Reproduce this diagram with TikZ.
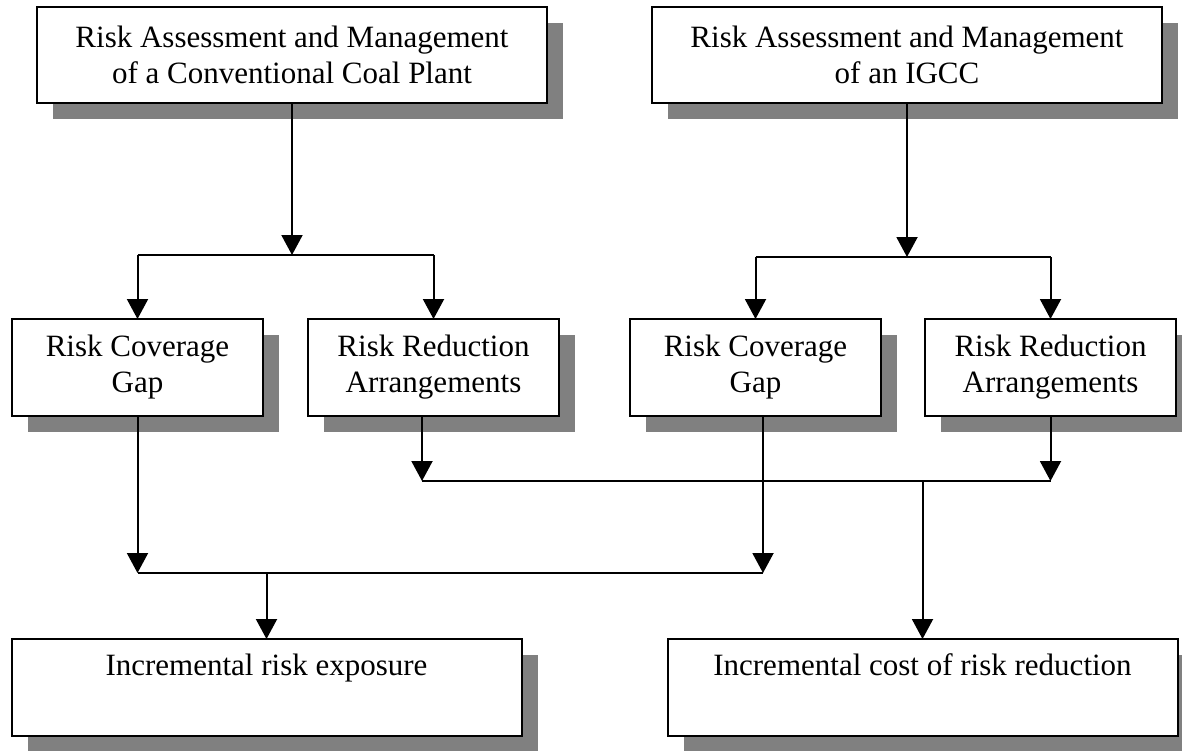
\documentclass[tikz,border=0pt]{standalone}
\usepackage{fontspec}
\setmainfont{Liberation Serif}
\usetikzlibrary{arrows.meta, positioning, shadows}
\definecolor{shadowgray}{gray}{0.5}
\tikzstyle{riskbox}=[draw, line width=1pt, fill=white, inner sep=0pt, outer sep=0pt, align=center,
  font=\fontsize{15.5}{18}\selectfont,
  drop shadow={shadow xshift=8pt, shadow yshift=-8pt, fill=shadowgray, opacity=1}]
\tikzstyle{widebox}=[riskbox, minimum width=255pt, minimum height=48pt]
\tikzstyle{smallbox}=[riskbox, minimum width=125.5pt, minimum height=48.5pt]
\tikzstyle{flow}=[line width=1pt, >={Triangle[width=10.5pt,length=10pt]}]

\begin{document}
\begin{tikzpicture}[x=0.5pt, y=-0.5pt, flow]
  \useasboundingbox (0,0) rectangle (1182,750);

  \node[widebox]  (conv)     at (292,55)      {Risk Assessment and Management\\of a Conventional Coal Plant};
  \node[widebox]  (igcc)     [right=52.5pt of conv] {Risk Assessment and Management\\of an IGCC};

  \node[smallbox] (gapL)     at (137.5,367.5) {Risk Coverage\\Gap};
  \node[smallbox] (redL)     [right=22.5pt of gapL] {Risk Reduction\\Arrangements};
  \node[smallbox] (gapR)     [right=35.5pt of redL] {Risk Coverage\\Gap};
  \node[smallbox] (redR)     [right=22pt of gapR]   {Risk Reduction\\Arrangements};

  \node[widebox, minimum height=48.5pt] (exposure) at (266.5,687.5) {Incremental risk exposure\\[5pt]~};
  \node[widebox, minimum height=48.5pt] (cost)     [right=73pt of exposure] {Incremental cost of risk reduction\\[5pt]~};

  \coordinate (forkL) at (292,255);
  \coordinate (forkR) at (907,257);
  \coordinate (barR)  at (0,481);
  \coordinate (barL)  at (0,573);
  \coordinate (outL)  at ([xshift=-5.75pt]redL.south);
  \coordinate (outR)  at ([xshift=3.75pt]gapR.south);

  \draw (gapL |- forkL) -- (redL |- forkL);
  \draw (gapR |- forkR) -- (redR |- forkR);
  \draw (outL |- barR) -- (redR |- barR);
  \draw (gapL |- barL) -- (outR |- barL);

  \path[->]
    (conv) edge (forkL)
    (gapL |- forkL) edge (gapL)
    (redL |- forkL) edge (redL)
    (igcc) edge (forkR)
    (gapR |- forkR) edge (gapR)
    (redR |- forkR) edge (redR)
    (outL) edge (outL |- barR)
    (redR) edge (redR |- barR)
    (gapL) edge (gapL |- barL)
    (outR) edge (outR |- barL)
    (cost |- barR) edge (cost)
    (exposure |- barL) edge (exposure);
\end{tikzpicture}
\end{document}
